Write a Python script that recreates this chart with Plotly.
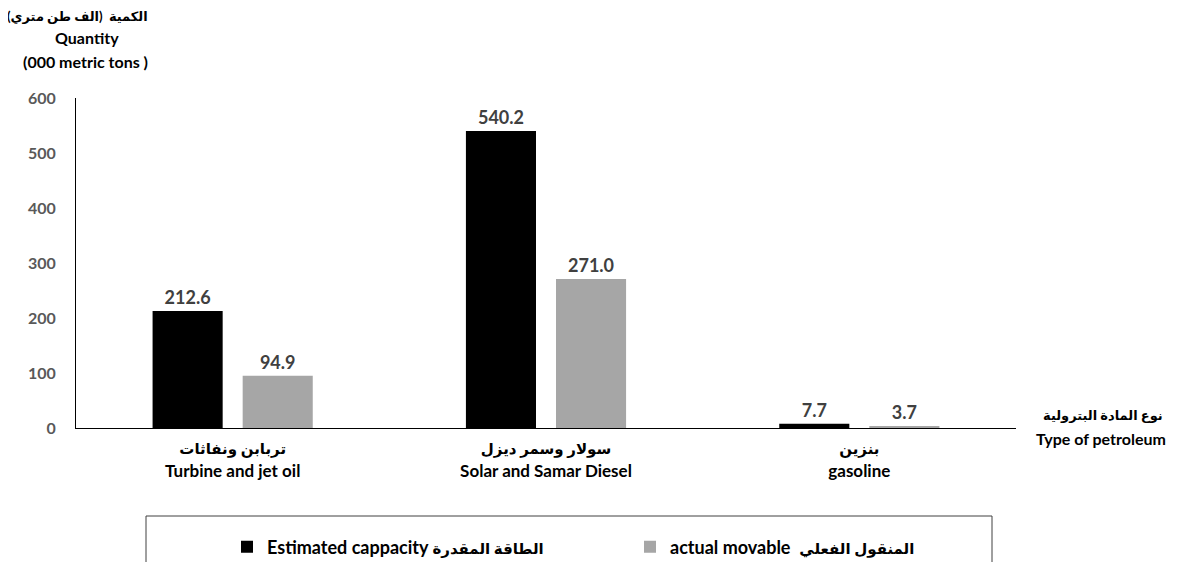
import plotly.graph_objects as go

categories_ar = ["تربابن ونفاثات", "سولار وسمر ديزل", "بنزين"]
categories_en = ["Turbine and jet oil", "Solar and Samar Diesel", "gasoline"]
estimated = [212.6, 540.2, 7.7]
actual = [94.9, 271.0, 3.7]
series_en = ["Estimated cappacity", "actual movable "]
series_ar = ["الطاقة المقدرة", "المنقول الفعلي"]
y_ticks = [0, 100, 200, 300, 400, 500, 600]

# page body has an 8px margin: work in screen pixels, convert to figure pixels
OFF = 8
W, H = 1178, 562
L, R, T, B = 76 - OFF, 162 + OFF, 98 - OFF, 134 + OFF
PW, PH = W - L - R, H - T - B

def px_x(x):
    return (x - OFF - L) / PW

def px_y(y):
    return (T + PH - (y - OFF)) / PH

FONT = "Lato, 'DejaVu Sans', sans-serif"
cat_labels = [f"<span style='font-size:15px'>{a}</span><br>{e}" for a, e in zip(categories_ar, categories_en)]
series_names = [f"{e} <span style='font-size:15px'>{a}</span>" for e, a in zip(series_en, series_ar)]

fig = go.Figure()
fig.add_trace(go.Bar(
    x=cat_labels, y=estimated, name=series_names[0],
    marker=dict(color="#000000", line=dict(width=0)),
    text=[f"{v:.1f}" for v in estimated], textposition="outside",
    textfont=dict(family=FONT, size=18, color="#404040", weight="bold"),
    cliponaxis=False,
))
fig.add_trace(go.Bar(
    x=cat_labels, y=actual, name=series_names[1],
    marker=dict(color="#A6A6A6", line=dict(width=0)),
    text=[f"{v:.1f}" for v in actual], textposition="outside",
    textfont=dict(family=FONT, size=18, color="#404040", weight="bold"),
    cliponaxis=False,
))

fig.update_layout(
    width=W, height=H,
    margin=dict(l=L, r=R, t=T, b=B, autoexpand=False),
    paper_bgcolor="white", plot_bgcolor="white",
    barmode="group", bargap=0.425, bargroupgap=0.222,
    font=dict(family=FONT, color="#000000"),
    showlegend=True,
    legend=dict(
        orientation="h", x=px_x(227), xanchor="left", y=px_y(547), yanchor="middle",
        font=dict(family=FONT, size=18, color="#000000", weight="bold"),
        bgcolor="rgba(0,0,0,0)", borderwidth=0,
        entrywidth=358, entrywidthmode="pixels",
    ),
    xaxis=dict(
        showline=True, linecolor="#000000", linewidth=1,
        showgrid=False, ticks="", zeroline=False,
        tickfont=dict(family=FONT, size=17, color="#000000", weight="bold"),
        ticklabelstandoff=5,
    ),
    yaxis=dict(
        range=[0, 600], tickvals=y_ticks,
        showline=True, linecolor="#000000", linewidth=1,
        showgrid=False, ticks="", zeroline=False,
        tickfont=dict(family=FONT, size=16, color="#595959", weight="bold"),
        ticklabelstandoff=16,
    ),
)

# Legend frame
fig.add_shape(type="rect", xref="paper", yref="paper",
              x0=px_x(146), x1=px_x(992), y0=px_y(516), y1=px_y(620),
              line=dict(color="#404040", width=1), fillcolor="rgba(0,0,0,0)")

# Y axis title (three lines)
ytitle = [("الكمية  (الف طن متري)", 77, 16, 13), ("Quantity", 87, 38, 16), ("(000 metric tons )", 85, 62, 16)]
for txt, cx, cy, fs in ytitle:
    fig.add_annotation(text=txt, xref="paper", yref="paper", x=px_x(cx), y=px_y(cy),
                       xanchor="center", yanchor="middle", showarrow=False,
                       font=dict(family=FONT, size=fs, color="#000000", weight="bold"))

# X axis title (two lines)
xtitle = [("نوع المادة البترولية", 1103, 415, 13), ("Type of petroleum", 1101, 438, 16)]
for txt, cx, cy, fs in xtitle:
    fig.add_annotation(text=txt, xref="paper", yref="paper", x=px_x(cx), y=px_y(cy),
                       xanchor="center", yanchor="middle", showarrow=False,
                       font=dict(family=FONT, size=fs, color="#000000", weight="bold"))

fig.write_html("out.html")
